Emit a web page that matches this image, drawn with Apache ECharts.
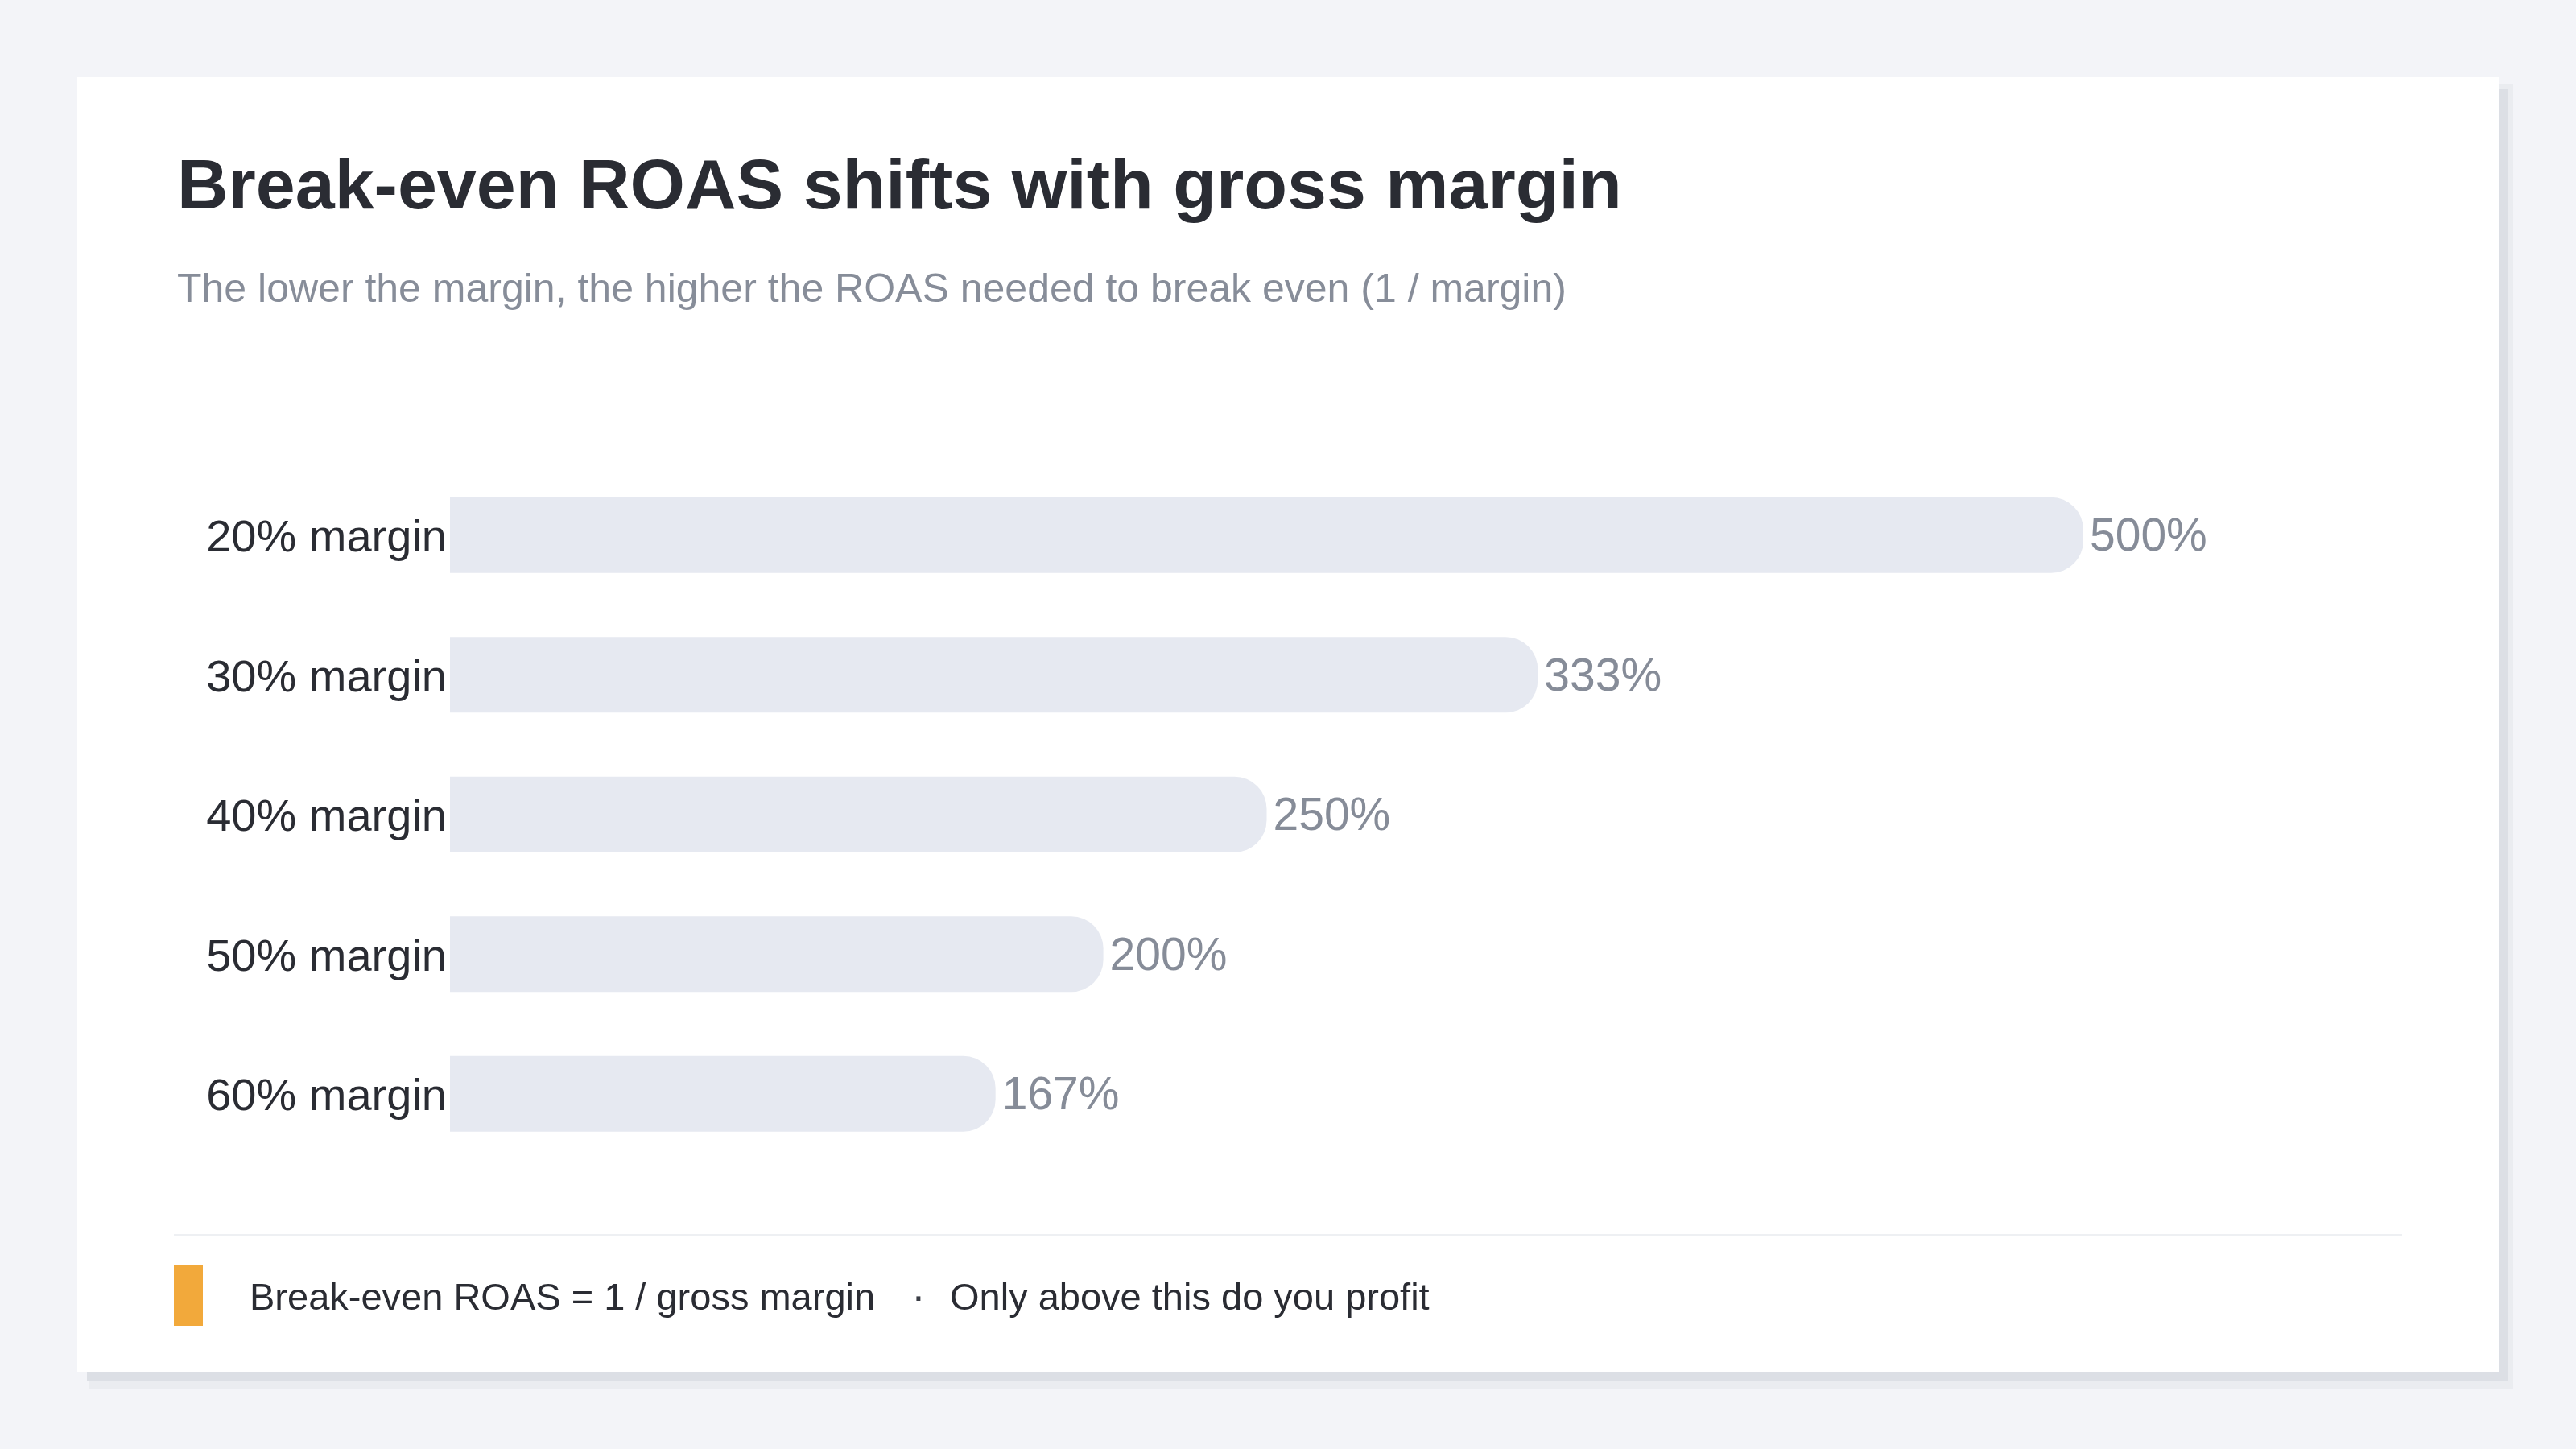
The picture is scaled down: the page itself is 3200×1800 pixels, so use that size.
<!DOCTYPE html>
<html>
<head>
<meta charset="utf-8">
<script src="https://cdn.jsdelivr.net/npm/echarts@6/dist/echarts.min.js"></script>
<style>
html,body{margin:0;padding:0;background:#f3f4f8;}
#chart{width:3200px;height:1800px;}
</style>
</head>
<body>
<div id="chart"></div>
<script>
const categories = ['20% margin', '30% margin', '40% margin', '50% margin', '60% margin'];
const roasValues = [500, 333, 250, 200, 167];
const titleText = 'Break-even ROAS shifts with gross margin';
const subtitleText = 'The lower the margin, the higher the ROAS needed to break even (1 / margin)';
const footerLeft = 'Break-even ROAS = 1 / gross margin';
const footerRight = 'Only above this do you profit';

const FONT = '"Liberation Sans", Arial, Helvetica, sans-serif';
const chart = echarts.init(document.getElementById('chart'), null, {renderer: 'canvas'});

chart.setOption({
  backgroundColor: '#f3f4f8',
  animation: false,
  graphic: [
    {type: 'rect', z: 0, shape: {x: 110, y: 104, width: 3012, height: 1621}, style: {fill: '#eaecf0'}},
    {type: 'rect', z: 0, shape: {x: 108, y: 110, width: 3008, height: 1606}, style: {fill: '#dcdfe5'}},
    {type: 'rect', z: 0, shape: {x: 96, y: 96, width: 3008, height: 1608}, style: {fill: '#ffffff'}},
    {type: 'text', z: 5, x: 220, y: 235, style: {text: titleText, font: 'bold 88px ' + FONT, fill: '#2a2c33', verticalAlign: 'middle', align: 'left'}},
    {type: 'text', z: 5, x: 220, y: 361, style: {text: subtitleText, font: '50px ' + FONT, fill: '#878d99', verticalAlign: 'middle', align: 'left'}},
    {type: 'rect', z: 5, shape: {x: 216, y: 1533, width: 2768, height: 3}, style: {fill: '#eef0f3'}},
    {type: 'rect', z: 5, shape: {x: 216, y: 1572, width: 36, height: 75}, style: {fill: '#f2a93b'}},
    {type: 'text', z: 5, x: 310, y: 1614, style: {text: footerLeft, font: '47px ' + FONT, fill: '#2a2c33', verticalAlign: 'middle', align: 'left'}},
    {type: 'text', z: 5, x: 1141, y: 1613, style: {text: '·', font: '52px ' + FONT, fill: '#3a3d45', verticalAlign: 'middle', align: 'center'}},
    {type: 'text', z: 5, x: 1180, y: 1614, style: {text: footerRight, font: '47px ' + FONT, fill: '#2a2c33', verticalAlign: 'middle', align: 'left'}}
  ],
  grid: {left: 559, width: 2029, top: 578, height: 867.5, containLabel: false},
  xAxis: {
    type: 'value', min: 0, max: 500,
    show: false,
    splitLine: {show: false}
  },
  yAxis: {
    type: 'category',
    data: categories,
    inverse: true,
    axisLine: {show: false},
    axisTick: {show: false},
    axisLabel: {
      margin: 4,
      formatter: v => '{c|' + v + '}',
      rich: {c: {fontSize: 56, fontFamily: FONT, color: '#2a2c33', padding: [10, 0, 0, 0]}}
    }
  },
  series: [{
    type: 'bar',
    data: roasValues,
    barWidth: 94,
    z: 3,
    itemStyle: {color: '#e6e9f1', borderRadius: [0, 40, 40, 0]},
    label: {
      show: true, position: 'right', distance: 8, offset: [0, 4],
      fontSize: 57, fontFamily: FONT, color: '#868c98',
      formatter: p => p.value + '%'
    }
  }]
});
</script>
</body>
</html>
